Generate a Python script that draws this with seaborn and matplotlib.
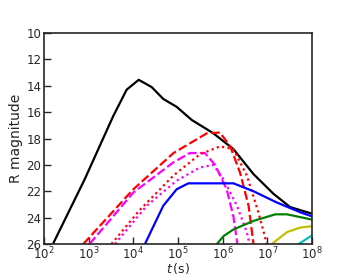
import numpy as np
import matplotlib
matplotlib.use("Agg")
import matplotlib.pyplot as plt
import seaborn as sns

# log10(t) and R magnitude
black_logt = [2.20, 2.91, 3.55, 3.85, 4.12, 4.41, 4.67, 4.97, 5.31, 5.79, 6.24, 6.69, 7.14, 7.51, 8.0]
black_mag = [26.0, 21.1, 16.3, 14.3, 13.55, 14.1, 15.0, 15.6, 16.6, 17.6, 18.8, 20.7, 22.2, 23.2, 23.7]

red_dash_logt = [2.88, 4.0, 4.9, 5.65, 5.94, 6.17, 6.39, 6.58, 6.69]
red_dash_mag = [26.0, 21.85, 19.1, 17.6, 17.55, 18.6, 20.6, 23.1, 26.0]

mag_dash_logt = [3.02, 4.0, 4.9, 5.27, 5.6, 5.83, 6.09, 6.24, 6.33]
mag_dash_mag = [26.0, 22.1, 19.8, 19.1, 19.1, 20.0, 21.85, 23.9, 26.0]

red_dot_logt = [3.51, 4.15, 4.9, 5.49, 5.94, 6.24, 6.54, 6.8, 6.99]
red_dot_mag = [26.0, 23.4, 20.8, 19.2, 18.6, 18.8, 20.8, 23.6, 26.0]

mag_dot_logt = [3.59, 4.3, 4.97, 5.49, 5.79, 6.02, 6.32, 6.54, 6.6]
mag_dot_mag = [26.0, 23.1, 21.2, 20.2, 20.0, 21.1, 23.1, 25.1, 26.0]

blue_logt = [4.26, 4.67, 4.97, 5.23, 5.49, 6.24, 6.69, 7.21, 7.74, 8.0]
blue_mag = [26.0, 23.1, 21.85, 21.4, 21.4, 21.4, 22.0, 22.85, 23.6, 23.9]

green_logt = [5.87, 6.02, 6.24, 6.69, 7.18, 7.44, 8.0]
green_mag = [26.0, 25.4, 24.9, 24.25, 23.75, 23.75, 24.15]

yellow_logt = [7.1, 7.44, 7.74, 8.0]
yellow_mag = [26.0, 25.1, 24.75, 24.65]

cyan_logt = [7.7, 8.0]
cyan_mag = [26.0, 25.35]

sns.set_style("ticks")
plt.rcParams['font.family'] = ['DejaVu Sans']

fig = plt.figure(figsize=(3.46, 2.76), dpi=100)
ax = fig.add_axes([44 / 346, 1 - 244 / 276, 268 / 346, 211 / 276])

curves = [
    (black_logt, black_mag, "black", "-"),
    (red_dash_logt, red_dash_mag, "red", (0, (4, 1.5))),
    (mag_dash_logt, mag_dash_mag, "magenta", (0, (4, 1.5))),
    (red_dot_logt, red_dot_mag, "red", (0, (1, 1.5))),
    (mag_dot_logt, mag_dot_mag, "magenta", (0, (1, 1.5))),
    (blue_logt, blue_mag, "blue", "-"),
    (green_logt, green_mag, "green", "-"),
    (yellow_logt, yellow_mag, "#bfbf00", "-"),
    (cyan_logt, cyan_mag, "#00bfbf", "-"),
]
for lt, m, c, ls in curves:
    sns.lineplot(x=10 ** np.array(lt), y=m, ax=ax, color=c, linestyle=ls,
                 linewidth=1.6, sort=False, estimator=None)

ax.set_xscale("log")
ax.set_xlim(1e2, 1e8)
ax.set_ylim(26, 10)
ax.set_xticks([10 ** k for k in range(2, 9)])
ax.set_yticks(range(10, 27, 2))
ax.xaxis.set_minor_locator(matplotlib.ticker.NullLocator())
ax.tick_params(direction="in", length=5, width=1, labelsize=8.5)
ax.tick_params(axis="x", pad=1)
ax.tick_params(axis="y", pad=2)
for s in ax.spines.values():
    s.set_linewidth(1.2)
ax.set_xlabel(r"$t\,$(s)", fontsize=9, labelpad=-0.5)
ax.set_ylabel("R magnitude", fontsize=10, labelpad=2)

fig.savefig("out.png", dpi=100)
